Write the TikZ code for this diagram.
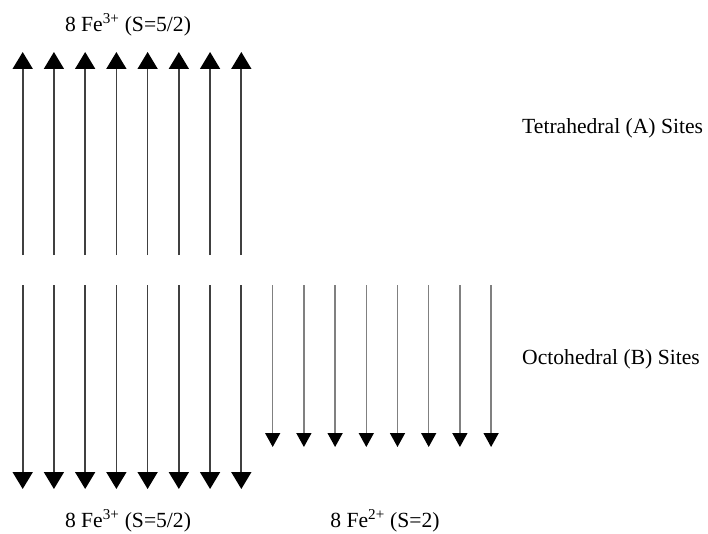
\documentclass[tikz,border=0pt]{standalone}
\usepackage{fontspec}
\setmainfont{Liberation Serif}
\usetikzlibrary{arrows.meta}
\begin{document}
\begin{tikzpicture}[x=1pt,y=-1pt,
  spinbig/.style={line width=1.7pt,draw=black!75,-{Triangle[width=20pt,length=17pt,color=black,fill=black]}},
  spinsmall/.style={line width=1.5pt,draw=black!50,-{Triangle[width=15pt,length=14pt,color=black,fill=black]}},
  lbl/.style={inner sep=0pt,font=\fontsize{21.6}{26}\selectfont}]
\useasboundingbox (0,0) rectangle (708,534);

% Fe3+ on tetrahedral sites: spins up
\foreach \i in {0,...,7}{
  \coordinate (ta\i) at ({22.7+31.23*\i},255);
  \coordinate (tb\i) at ({22.7+31.23*\i},52);
  \draw[spinbig] (ta\i) -- (tb\i);
}
% Fe3+ on octahedral sites: spins down
\foreach \i in {0,...,7}{
  \coordinate (oa\i) at ({22.7+31.23*\i},285);
  \coordinate (ob\i) at ({22.7+31.23*\i},489);
  \draw[spinbig] (oa\i) -- (ob\i);
}
% Fe2+ on octahedral sites: spins down
\foreach \i in {0,...,7}{
  \coordinate (fa\i) at ({272.7+31.2*\i},285);
  \coordinate (fb\i) at ({272.7+31.2*\i},447);
  \draw[spinsmall] (fa\i) -- (fb\i);
}

\node[lbl] (topl) at (128,25) {8 Fe\textsuperscript{3+} (S=5/2)};
\node[lbl] (botl) at (128,521) {8 Fe\textsuperscript{3+} (S=5/2)};
\node[lbl] (botr) at (385,521) {8 Fe\textsuperscript{2+} (S=2)};
\node[lbl,anchor=west] (tetra) at (522,128) {Tetrahedral (A) Sites};
\node[lbl,anchor=west] (octa) at (522,359) {Octohedral (B) Sites};
\end{tikzpicture}
\end{document}
